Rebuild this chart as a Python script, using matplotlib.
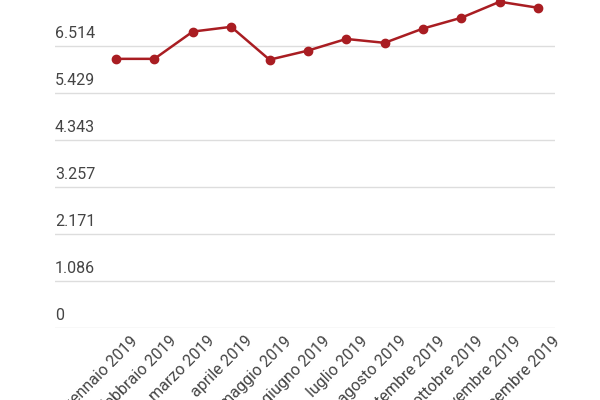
import matplotlib.pyplot as plt
import matplotlib.transforms as mtransforms

months = ["gennaio 2019", "febbraio 2019", "marzo 2019", "aprile 2019", "maggio 2019",
          "giugno 2019", "luglio 2019", "agosto 2019", "settembre 2019", "ottobre 2019",
          "novembre 2019", "dicembre 2019"]
values = [6.22, 6.22, 6.85, 6.96, 6.20, 6.41, 6.68, 6.59, 6.92, 7.17, 7.54, 7.40]
yticks = [0, 1.086, 2.171, 3.257, 4.343, 5.429, 6.514]
ytick_labels = ["0", "1.086", "2.171", "3.257", "4.343", "5.429", "6.514"]

plt.rcParams["font.family"] = ["Roboto", "DejaVu Sans"]

fig = plt.figure(figsize=(6, 4), dpi=100)
ax = fig.add_axes([55 / 600, 72 / 400, 500 / 600, 328 / 400])

x = list(range(len(months)))
ax.plot(x, values, color="#a91d22", linewidth=1.8, marker="o", markersize=6, zorder=3,
        clip_on=False)

for v, lab in zip(yticks, ytick_labels):
    ax.axhline(v, color="#dddddd", linewidth=1, zorder=1)
    ax.text(0, v + 0.12, lab, transform=ax.get_yaxis_transform(), ha="left", va="bottom",
            fontsize=11.5, color="#444444")

ax.set_xlim(-1.59, 11.44)
ax.set_ylim(0, 7.58)
ax.set_yticks([])
ax.set_xticks(x)
ax.set_xticklabels(months, rotation=45, ha="right", rotation_mode="anchor",
                   fontsize=11.5, color="#444444")
ax.tick_params(axis="x", length=0, pad=4)
offset = mtransforms.ScaledTranslation(0.14, 0, fig.dpi_scale_trans)
for lbl in ax.get_xticklabels():
    lbl.set_transform(lbl.get_transform() + offset)
for s in ax.spines.values():
    s.set_visible(False)

fig.savefig("out.png", dpi=100)
